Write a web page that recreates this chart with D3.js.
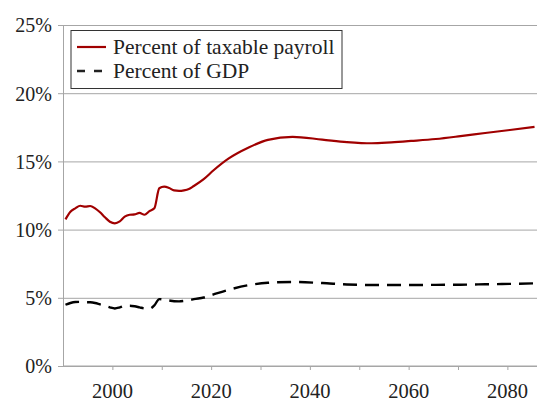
<!DOCTYPE html>
<html>
<head>
<meta charset="utf-8">
<script src="https://cdnjs.cloudflare.com/ajax/libs/d3/7.8.5/d3.min.js"></script>
<style>
    html, body { margin: 0; padding: 0; background: #fff; }
    svg text { font-family: "Liberation Serif", serif; fill: #222; }
</style>
</head>
<body>
<div class="svg-container"></div>
<script>
// Data (percent)
const years = [1990, 1991, 1992, 1993, 1994, 1995, 1996, 1997, 1998, 1999,
               2000, 2001, 2002, 2003, 2004, 2005, 2006, 2007, 2008, 2009,
               2010, 2011, 2012, 2013, 2014, 2015, 2016, 2018, 2020, 2023,
               2027, 2031, 2036, 2042, 2047, 2052, 2056, 2060, 2065, 2070,
               2075, 2080, 2085];

const payrollPct = [10.75, 11.31, 11.56, 11.75, 11.68, 11.73, 11.56, 11.27, 10.9, 10.58,
                    10.46, 10.6, 10.95, 11.09, 11.12, 11.22, 11.09, 11.36, 11.56, 13.03,
                    13.15, 13.05, 12.87, 12.84, 12.88, 12.98, 13.2, 13.7, 14.35, 15.2,
                    16.0, 16.58, 16.8, 16.6, 16.42, 16.33, 16.4, 16.5, 16.64, 16.85,
                    17.08, 17.3, 17.53];

const gdpPct = [4.49, 4.62, 4.69, 4.7, 4.68, 4.67, 4.62, 4.52, 4.42, 4.3,
                4.22, 4.3, 4.42, 4.42, 4.38, 4.3, 4.22, 4.2, 4.45, 4.9,
                4.86, 4.8, 4.75, 4.74, 4.77, 4.82, 4.9, 5.02, 5.25, 5.58,
                5.92, 6.1, 6.16, 6.08, 5.98, 5.94, 5.94, 5.94, 5.95, 5.96,
                5.99, 6.02, 6.06];

const yTicks = [0, 5, 10, 15, 20, 25];
const xTickYears = [2000, 2010, 2020, 2030, 2040, 2050, 2060, 2070, 2080];
const xLabelYears = [2000, 2020, 2040, 2060, 2080];

const seriesNames = ['Percent of taxable payroll', 'Percent of GDP'];

/**
 * Chart manager
 *          draws the two cost lines with their axes and legend
 */
const chartManager = (() => {
    const SIZE = { WIDTH: 540, HEIGHT: 403 };
    const PLOT = { LEFT: 63, RIGHT: 537, TOP: 25, BOTTOM: 366 };
    const GRID = '#a6a6a6';
    const RED = '#a00000';

    // categories sit between tick marks, so shift by half a year
    const x = d3.scaleLinear().domain([1989.5, 2085.5]).range([PLOT.LEFT, PLOT.RIGHT]);
    const y = d3.scaleLinear().domain([0, 25]).range([PLOT.BOTTOM, PLOT.TOP]);

    const initSVG = () => {
        return d3.select('.svg-container').append('svg')
                 .attr('width', SIZE.WIDTH)
                 .attr('height', SIZE.HEIGHT);
    };

    /**
     * Draw axes + gridlines
     * @param {Object} svg
     */
    const drawAxes = (svg) => {
        const yAxis = d3.axisLeft(y)
                        .tickValues(yTicks)
                        .tickSize(-(PLOT.RIGHT - PLOT.LEFT))
                        .tickFormat(d => `${d}%`);

        const gy = svg.append('g')
                      .attr('transform', `translate(${PLOT.LEFT}, 0)`)
                      .call(yAxis);
        gy.select('.domain').attr('stroke', GRID);
        gy.selectAll('.tick line').attr('stroke', GRID).attr('x1', -5);
        gy.selectAll('.tick text')
          .attr('x', -11)
          .attr('dy', '0.34em')
          .style('font-size', '20px');

        const xAxis = d3.axisBottom(x)
                        .tickValues(xTickYears.map(d => d - 0.5))
                        .tickSize(4)
                        .tickFormat('');

        const gx = svg.append('g')
                      .attr('transform', `translate(0, ${PLOT.BOTTOM})`)
                      .call(xAxis);
        gx.select('.domain').attr('stroke', GRID).attr('d', `M${PLOT.LEFT},0H${PLOT.RIGHT}`);
        gx.selectAll('.tick line').attr('stroke', GRID);

        svg.append('g').selectAll('text')
           .data(xLabelYears)
           .enter()
           .append('text')
           .attr('x', d => x(d - 0.5))
           .attr('y', 398)
           .attr('text-anchor', 'middle')
           .style('font-size', '20.5px')
           .text(d => d);

        svg.selectAll('.tick text').attr('fill', '#222').style('font-family', '"Liberation Serif", serif');
    };

    /**
     * Draw both series
     * @param {Object} svg
     */
    const drawLines = (svg) => {
        const line = (vals) => d3.line()
                                 .x((d, i) => x(years[i]))
                                 .y(d => y(d))
                                 .curve(d3.curveMonotoneX)(vals);

        svg.append('path')
           .attr('d', line(gdpPct))
           .attr('fill', 'none')
           .attr('stroke', '#000')
           .attr('stroke-width', 2.4)
           .attr('stroke-dasharray', '14,8');

        svg.append('path')
           .attr('d', line(payrollPct))
           .attr('fill', 'none')
           .attr('stroke', RED)
           .attr('stroke-width', 2.2);
    };

    /**
     * Legend box top left
     * @param {Object} svg
     */
    const drawLegend = (svg) => {
        const g = svg.append('g');
        g.append('rect')
         .attr('x', 71).attr('y', 30.5)
         .attr('width', 271).attr('height', 58)
         .attr('fill', '#fff')
         .attr('stroke', '#333')
         .attr('stroke-width', 1);

        const rows = g.selectAll('.legend-row')
                      .data(seriesNames)
                      .enter()
                      .append('g')
                      .attr('transform', (d, i) => `translate(0, ${47 + i * 24})`);

        rows.append('line')
            .attr('x1', 77).attr('x2', 106)
            .attr('stroke', (d, i) => i === 0 ? RED : '#222')
            .attr('stroke-width', (d, i) => i === 0 ? 2.2 : 2.6)
            .attr('stroke-dasharray', (d, i) => i === 0 ? null : '8,9');

        rows.append('text')
            .attr('x', 113)
            .attr('dy', '0.34em')
            .style('font-size', '21.5px')
            .text(d => d);
    };

    const init = () => {
        const svg = initSVG();
        drawAxes(svg);
        drawLines(svg);
        drawLegend(svg);
    };

    return { init: init };
})();

chartManager.init();
</script>
</body>
</html>
